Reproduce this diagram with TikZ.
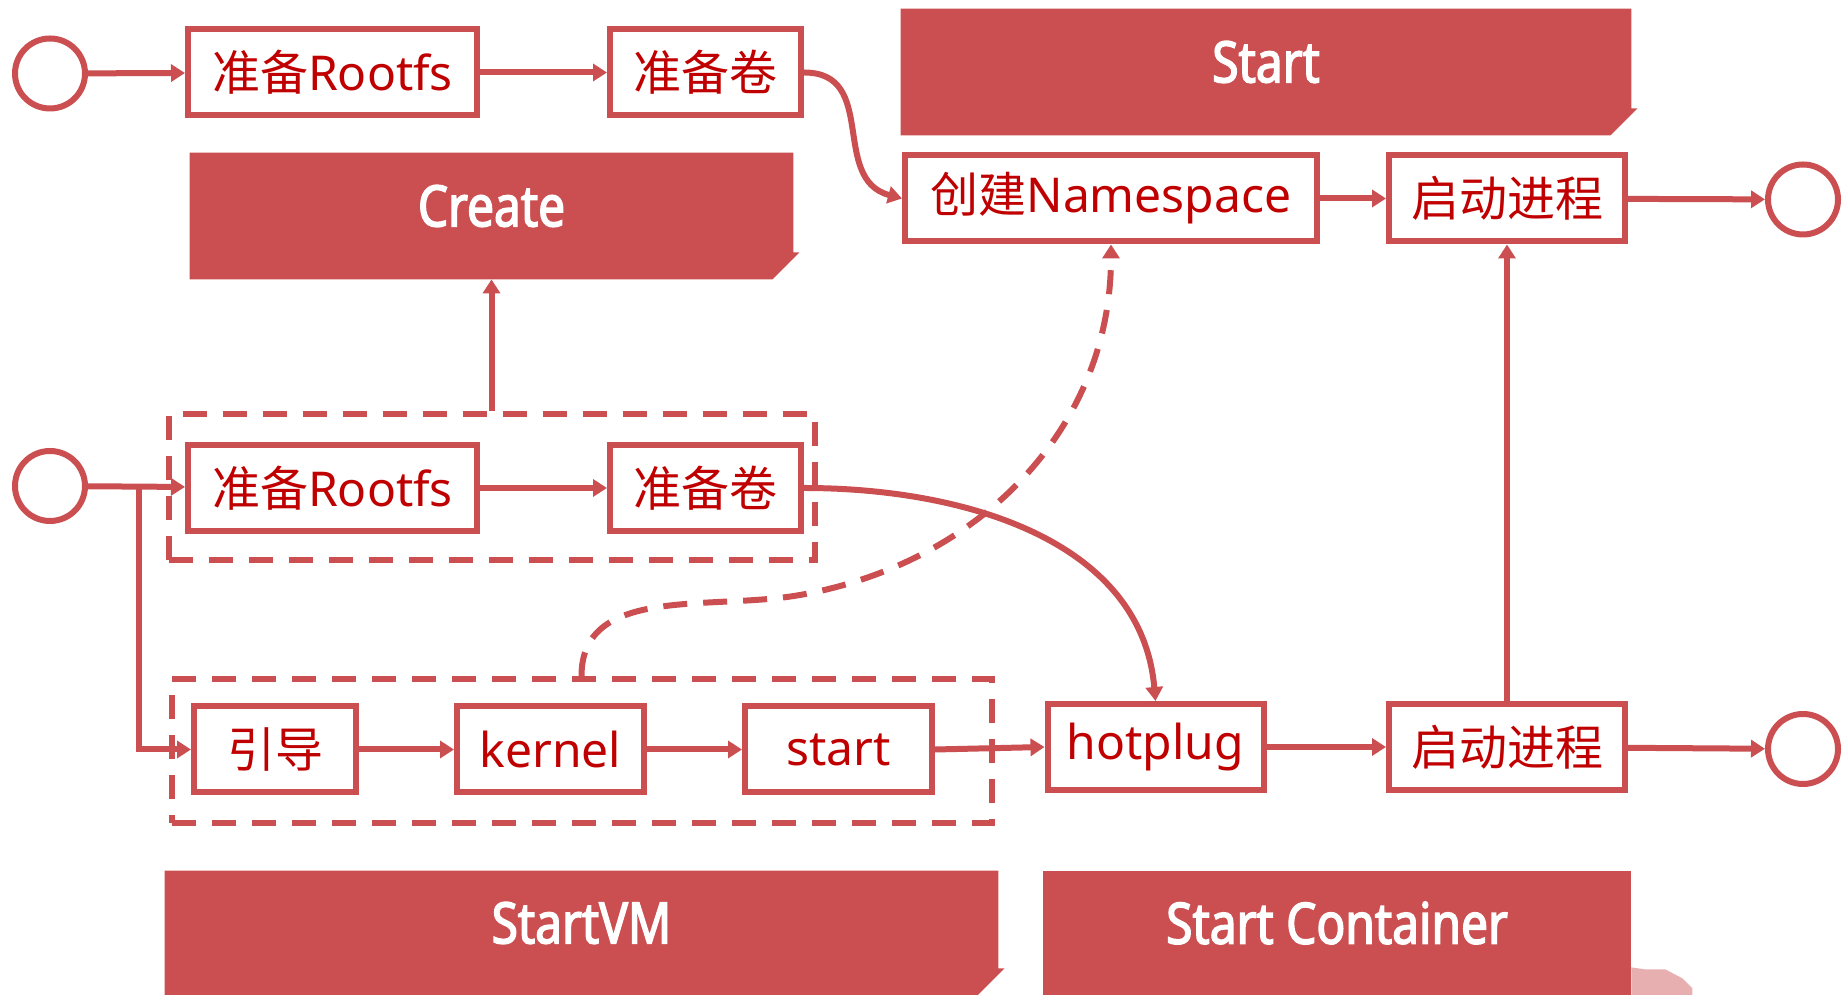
\documentclass[tikz,border=0pt]{standalone}
\usepackage{fontspec}
\setmainfont{Noto Sans}
\newfontfamily\cjk{Noto Sans CJK SC}
\newfontfamily\bannerfam{Noto Sans}[FakeStretch=0.84, FakeBold=2.6]
\usetikzlibrary{arrows.meta}
\definecolor{boxred}{RGB}{203,78,81}
\definecolor{txtred}{RGB}{192,0,0}

\begin{document}
\begin{tikzpicture}[x=0.5pt, y=0.5pt,
  stepbox/.style={draw=boxred, line width=3pt, fill=white, text=txtred, minimum height=43pt, inner sep=0pt, font=\fontsize{24}{28}\selectfont},
  endpt/.style={circle, draw=boxred, line width=3pt, fill=white, minimum size=35pt, inner sep=0pt},
  link/.style={boxred, line width=3pt, -{Triangle[length=7pt,width=8.5pt]}},
  group/.style={draw=boxred, line width=3pt, dash pattern=on 12pt off 8pt, inner sep=0pt},
  banner/.style={inner sep=0pt, minimum height=63pt},
  bannertext/.style={text=white, font=\bannerfam\fontsize{28.5}{34}\selectfont}]
\useasboundingbox (0,0) rectangle (1846,995);
\clip (0,0) rectangle (1846,995);

% phase banners
\node[banner, minimum width=301.5pt] (create) at (491.5,779) {};
\fill[boxred] (create.south west) |- (create.north east) -- ([yshift=13.5pt]create.south east) -- ++(3pt,0) -- ([xshift=-10.5pt]create.south east) -- cycle;
\node[bannertext] (createtxt) at ([yshift=5pt]create.center) {Create};

\node[banner, minimum width=365pt] (start) at (1266,923) {};
\fill[boxred] (start.south west) |- (start.north east) -- ([yshift=13.5pt]start.south east) -- ++(3pt,0) -- ([xshift=-10.5pt]start.south east) -- cycle;
\node[bannertext] (starttxt) at ([yshift=5pt]start.center) {Start};

\node[banner, minimum width=416.5pt, minimum height=62pt] (startvm) at (581.5,62) {};
\fill[boxred] (startvm.south west) |- (startvm.north east) -- ([yshift=13.5pt]startvm.south east) -- ++(3pt,0) -- ([xshift=-10.5pt]startvm.south east) -- cycle;
\node[bannertext] (startvmtxt) at ([yshift=5pt]startvm.center) {StartVM};

\node[banner, minimum width=294pt, minimum height=62pt, fill=boxred] (startct) at (1337,62) {};
\fill[boxred!45] (startct.south east) -- ++(0,14pt) -- ++(7pt,-1pt) -- ++(10pt,0) -- ++(8.5pt,-4.5pt) -- ++(5pt,-5pt) -- ++(0,-3.5pt) -- cycle;
\node[bannertext] (startcttxt) at ([yshift=5pt]startct.center) {Start Container};

% dashed groups
\node[group, minimum width=323pt, minimum height=73pt] (grpA) at (491.5,508) {};
\node[group, minimum width=410pt, minimum height=72pt] (grpB) at (581.5,244) {};

% create path
\node[endpt] (in1) at (50,921.5) {};
\node[stepbox, minimum width=144.5pt] (rfs1) at (332.5,922.5) {\cjk 准备\rmfamily Rootfs};
\node[stepbox, minimum width=95.5pt] (vol1) at (705.5,922.5) {\cjk 准备卷};

% start path
\node[stepbox, minimum width=206pt] (ns) at (1111,796.5) {\cjk 创建\rmfamily Namespace};
\node[stepbox, minimum width=118pt] (proc1) at (1507,796.5) {\cjk 启动进程};
\node[endpt] (out1) at (1803,795.5) {};

% sandbox path
\node[endpt] (in2) at (50,509) {};
\node[stepbox, minimum width=144.5pt] (rfs2) at (332.5,507) {\cjk 准备\rmfamily Rootfs};
\node[stepbox, minimum width=95.5pt] (vol2) at (705.5,507) {\cjk 准备卷};
\node[stepbox, minimum width=81pt] (boot) at (275,245.5) {\cjk 引导};
\node[stepbox, minimum width=93.5pt] (kernel) at (550.5,245.5) {kernel};
\node[stepbox, minimum width=93.5pt] (vmstart) at (838.5,245.5) {start};
\node[stepbox, minimum width=108pt] (hotplug) at (1155.5,248) {hotplug};
\node[stepbox, minimum width=118pt] (proc2) at (1507,248) {\cjk 启动进程};
\node[endpt] (out2) at (1803,246) {};

% connectors
\draw[link] (in1) -- (rfs1);
\draw[link] (rfs1) -- (vol1);
\draw[link] (vol1.east) to[out=0, in=165, looseness=1.2] (ns.west);
\draw[link] (ns) -- (proc1);
\draw[link] (proc1) -- (out1);

\coordinate (split) at ([xshift=25.5pt]in2.east);
\draw[link] (in2) -- (rfs2);
\draw[link] (split) |- (boot.west);
\draw[link] (rfs2) -- (vol2);
\draw[link] (grpA.north) -- (create.south);
\draw[link] (vol2.east) to[out=0, in=95] (hotplug.north);

\draw[link] (boot) -- (kernel);
\draw[link] (kernel) -- (vmstart);
\draw[link] (vmstart.east) -- (hotplug.west);
\draw[link] (hotplug) -- (proc2);
\draw[link] (proc2) -- (out2);
\draw[link] (proc2) -- (proc1);

\coordinate (dbend) at (800,400);
\draw[link, dash pattern=on 12pt off 8pt] (grpB.north) to[out=90, in=190] (dbend) to[out=10, in=-90] (ns.south);
\end{tikzpicture}
\end{document}
